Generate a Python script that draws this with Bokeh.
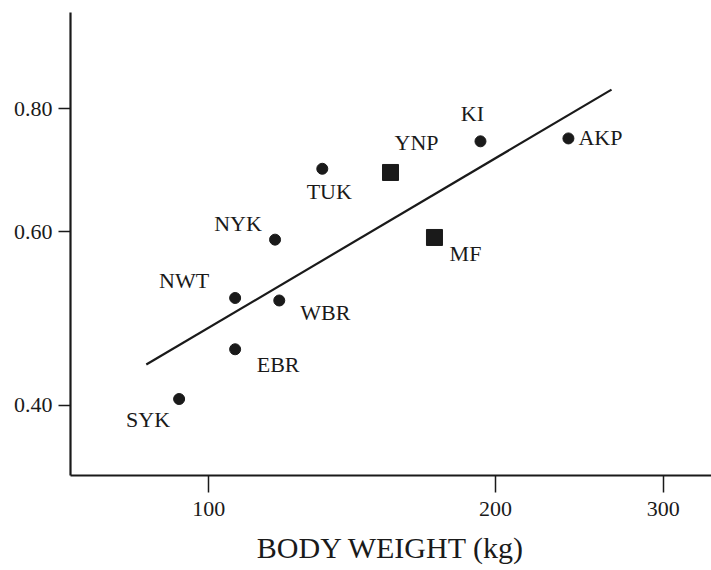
from bokeh.plotting import figure
from bokeh.models import Range1d, FixedTicker, PrintfTickFormatter, ColumnDataSource
from bokeh.core.properties import value
from bokeh.embed import file_html
from bokeh.resources import INLINE

# Data (log-log axes)
circle_names = ["SYK", "EBR", "NWT", "WBR", "NYK", "TUK", "KI", "AKP"]
circle_weight = [93.1, 106.6, 106.6, 118.6, 117.4, 131.6, 192.9, 238.6]
circle_ratio = [0.406, 0.456, 0.514, 0.511, 0.589, 0.695, 0.741, 0.746]

square_names = ["YNP", "MF"]
square_weight = [155.2, 172.6]
square_ratio = [0.689, 0.592]

fit_weight = [86.0, 264.8]
fit_ratio = [0.440, 0.836]

x_ticks = [100, 200, 300]
y_ticks = [0.40, 0.60, 0.80]

# label offsets in screen pixels (style)
circle_dx = [-31, 43, -51, 46, -37, 7, -8, 32]
circle_dy = [20, 15, -17, 12, -16, 23, -28, -1]
square_dx = [26, 31]
square_dy = [-30, 16]

INK = "#1a1a1a"
FONT = "Liberation Serif"

p = figure(width=711, height=570, x_axis_type="log", y_axis_type="log",
           x_range=Range1d(71.6, 337.2), y_range=Range1d(0.3396, 1.001),
           output_backend="svg", toolbar_location=None,
           min_border_left=70, min_border_top=12, min_border_right=0, min_border_bottom=95)
p.outline_line_color = None
p.xgrid.visible = False
p.ygrid.visible = False
p.background_fill_color = "white"
p.border_fill_color = "white"

p.line(fit_weight, fit_ratio, line_color=INK, line_width=2.2)

csrc = ColumnDataSource(dict(x=circle_weight, y=circle_ratio, name=circle_names,
                             dx=circle_dx, dy=circle_dy))
ssrc = ColumnDataSource(dict(x=square_weight, y=square_ratio, name=square_names,
                             dx=square_dx, dy=square_dy))

p.scatter("x", "y", source=csrc, marker="circle", size=11, fill_color=INK, line_color=INK)
p.scatter("x", "y", source=ssrc, marker="square", size=16, fill_color=INK, line_color=INK)

for src in (csrc, ssrc):
    p.text("x", "y", text="name", source=src, x_offset="dx", y_offset="dy",
           text_font=value(FONT), text_font_size="22px", text_color=INK,
           text_align="center", text_baseline="middle")

for ax in (p.xaxis[0], p.yaxis[0]):
    ax.axis_line_color = INK
    ax.axis_line_width = 2.2
    ax.major_tick_line_color = INK
    ax.major_tick_line_width = 1.5
    ax.major_tick_in = 0
    ax.minor_tick_line_color = None
    ax.major_label_text_font = FONT
    ax.major_label_text_font_size = "22px"
    ax.major_label_text_color = INK

p.xaxis.ticker = FixedTicker(ticks=x_ticks)
p.xaxis.formatter = PrintfTickFormatter(format="%d")
p.xaxis.major_tick_out = 17
p.xaxis.major_label_standoff = 9
p.xaxis.axis_label = "BODY WEIGHT (kg)"
p.xaxis.axis_label_text_font = FONT
p.xaxis.axis_label_text_font_size = "30px"
p.xaxis.axis_label_text_font_style = "normal"
p.xaxis.axis_label_text_color = INK
p.xaxis.axis_label_standoff = 12

p.yaxis.ticker = FixedTicker(ticks=y_ticks)
p.yaxis.formatter = PrintfTickFormatter(format="%.2f")
p.yaxis.major_tick_out = 12
p.yaxis.major_label_standoff = 6

open("out.html", "w").write(file_html(p, INLINE))
